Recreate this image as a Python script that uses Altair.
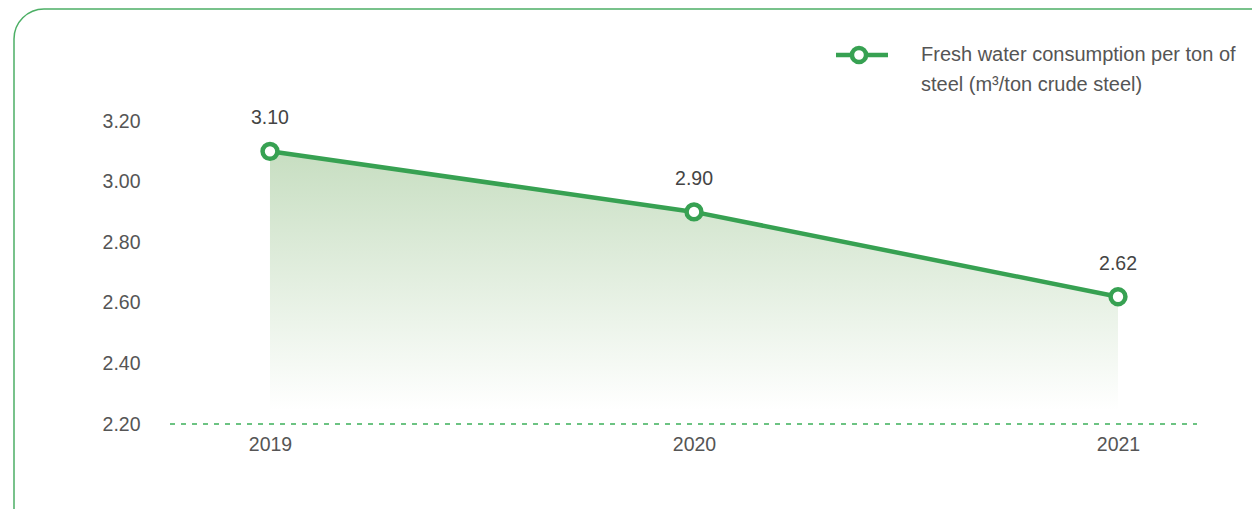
import altair as alt
import pandas as pd

years = ["2019", "2020", "2021"]
values = [3.10, 2.90, 2.62]
value_labels = ["3.10", "2.90", "2.62"]
y_ticks = [2.2, 2.4, 2.6, 2.8, 3.0, 3.2]
legend_lines = ["Fresh water consumption per ton of", "steel (m\u00b3/ton crude steel)"]

GREEN = "#37a152"
FONT = "Liberation Sans"
TXT = "#555555"
FS = 19.5

df = pd.DataFrame({"year": years, "value": values, "label": value_labels})

W, H = 1048, 303
L, T = 170, 121

x_enc = alt.X("year:O", scale=alt.Scale(type="point", padding=0.2358),
              axis=alt.Axis(title=None, labelAngle=0, domain=False, ticks=False,
                            labelPadding=11, labelFontSize=FS, labelColor=TXT, labelFont=FONT))
y_enc = alt.Y("value:Q", scale=alt.Scale(domain=[2.2, 3.2], zero=False, nice=False),
              axis=alt.Axis(title=None, values=y_ticks, format=".2f", domain=False, ticks=False,
                            grid=False, labelPadding=30, labelFontSize=FS, labelColor=TXT,
                            labelFont=FONT))

base = alt.Chart(df)

area = base.mark_area(
    color=alt.Gradient(
        gradient="linear",
        stops=[alt.GradientStop(color="#c7dec1", offset=0),
               alt.GradientStop(color="#ffffff", offset=0.95),
               alt.GradientStop(color="#ffffff", offset=1)],
        x1=1, x2=1, y1=0, y2=1,
    )
).encode(x=x_enc, y=y_enc, y2=alt.datum(2.2))

line = base.mark_line(color=GREEN, strokeWidth=4.5).encode(x=x_enc, y=y_enc)

points = base.mark_point(filled=True, fill="white", stroke=GREEN, strokeWidth=4.5,
                         size=220, opacity=1, shape="circle").encode(x=x_enc, y=y_enc)

labels = base.mark_text(dy=-33, fontSize=FS, color="#444444", font=FONT).encode(
    x=x_enc, y=y_enc, text="label:N")

baseline = alt.Chart(pd.DataFrame({"value": [2.2]})).mark_rule(
    color="#3cb05a", strokeWidth=1.5, strokeDash=[5, 6]
).encode(y=y_enc, x=alt.value(0), x2=alt.value(1197 - L))

border = alt.Chart(pd.DataFrame({"a": [0]})).mark_rect(
    fill="transparent", stroke="#4caf65", strokeWidth=1.5, cornerRadius=30
).encode(x=alt.value(14 - L), x2=alt.value(1300 - L), y=alt.value(9 - T), y2=alt.value(560 - T))

leg_line = alt.Chart(pd.DataFrame({"a": [0]})).mark_rule(color=GREEN, strokeWidth=4.5).encode(
    x=alt.value(836 - L), x2=alt.value(888 - L), y=alt.value(55 - T))
leg_pt = alt.Chart(pd.DataFrame({"a": [0]})).mark_point(
    filled=True, fill="white", stroke=GREEN, strokeWidth=4.5, size=200, opacity=1, shape="circle"
).encode(x=alt.value(859 - L), y=alt.value(55 - T))
leg_text0 = alt.Chart(pd.DataFrame({"a": [0]})).mark_text(
    align="left", baseline="middle", fontSize=20, color=TXT, font=FONT
).encode(x=alt.value(921 - L), y=alt.value(55 - T), text=alt.value(legend_lines[0]))
leg_text1 = alt.Chart(pd.DataFrame({"a": [0]})).mark_text(
    align="left", baseline="middle", fontSize=20, color=TXT, font=FONT
).encode(x=alt.value(921 - L), y=alt.value(85 - T), text=alt.value(legend_lines[1]))

chart = alt.layer(border, area, baseline, line, points, labels, leg_line, leg_pt, leg_text0, leg_text1).properties(
    width=W, height=H,
    autosize=alt.AutoSizeParams(type="none"),
    padding={"left": L, "top": T, "right": 1252 - L - W, "bottom": 509 - T - H},
    background="white",
).configure_view(strokeWidth=0)

chart.save("out.html", embed_options={"renderer": "svg", "actions": False})
